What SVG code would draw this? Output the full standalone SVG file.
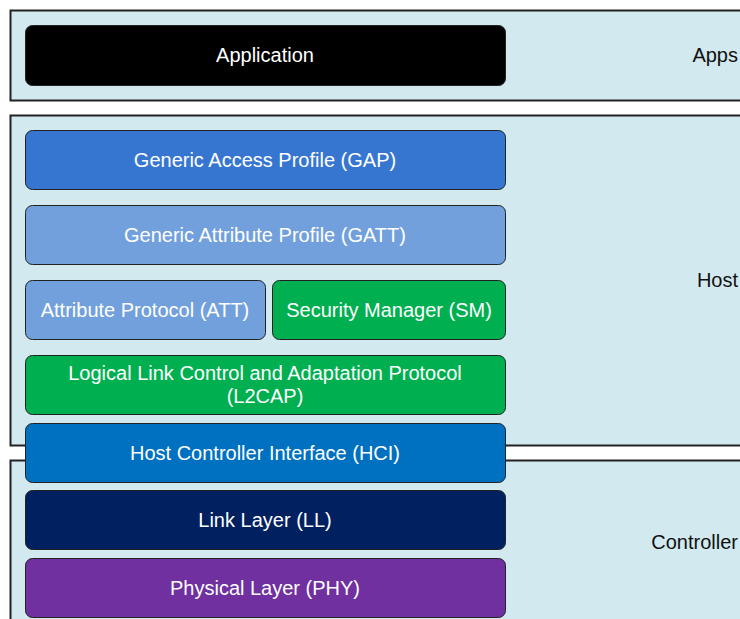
<svg xmlns="http://www.w3.org/2000/svg" width="740" height="619" viewBox="0 0 740 619">
<style>
.layer{fill:#d2e9ef;stroke:#222;stroke-width:2}
.box{stroke:#222;stroke-width:1}
.t{font-family:"Liberation Sans",Arial,sans-serif;font-size:20px;fill:#fff;text-anchor:middle;dominant-baseline:central}
.lt{font-family:"Liberation Sans",Arial,sans-serif;font-size:20px;fill:#111;text-anchor:end;dominant-baseline:central}
</style>
<rect width="740" height="619" fill="#fff"/>
<g id="apps-layer"><rect class="layer" x="10.5" y="10.5" width="740" height="90"/><text class="lt" x="738" y="55">Apps</text></g>
<g id="host-layer"><rect class="layer" x="10.5" y="115.5" width="740" height="330"/><text class="lt" x="738" y="280">Host</text></g>
<g id="controller-layer"><rect class="layer" x="10.5" y="460.5" width="740" height="170"/><text class="lt" x="738" y="542">Controller</text></g>
<g id="connectors"></g>
<g id="app"><rect class="box" x="25.5" y="25.5" width="480" height="60" rx="7" fill="#000"/><text class="t" x="265" y="55">Application</text></g>
<g id="gap"><rect class="box" x="25.5" y="130.5" width="480" height="59" rx="7" fill="#3776d0"/><text class="t" x="265" y="160">Generic Access Profile (GAP)</text></g>
<g id="gatt"><rect class="box" x="25.5" y="205.5" width="480" height="59" rx="7" fill="#72a0dc"/><text class="t" x="265" y="235">Generic Attribute Profile (GATT)</text></g>
<g id="att"><rect class="box" x="25.5" y="280.5" width="240" height="59" rx="7" fill="#72a0dc"/><text class="t" x="145" y="310">Attribute Protocol (ATT)</text></g>
<g id="sm"><rect class="box" x="272.5" y="280.5" width="233" height="59" rx="7" fill="#00b050"/><text class="t" x="389" y="310">Security Manager (SM)</text></g>
<g id="l2cap"><rect class="box" x="25.5" y="355.5" width="480" height="59" rx="7" fill="#00b050"/><text class="t" x="265" y="373">Logical Link Control and Adaptation Protocol</text><text class="t" x="265" y="396">(L2CAP)</text></g>
<g id="hci"><rect class="box" x="25.5" y="423.5" width="480" height="59" rx="7" fill="#0070c0"/><text class="t" x="265" y="453">Host Controller Interface (HCI)</text></g>
<g id="ll"><rect class="box" x="25.5" y="490.5" width="480" height="59" rx="7" fill="#002060"/><text class="t" x="265" y="520">Link Layer (LL)</text></g>
<g id="phy"><rect class="box" x="25.5" y="558.5" width="480" height="59" rx="7" fill="#7030a0"/><text class="t" x="265" y="588">Physical Layer (PHY)</text></g>
</svg>
